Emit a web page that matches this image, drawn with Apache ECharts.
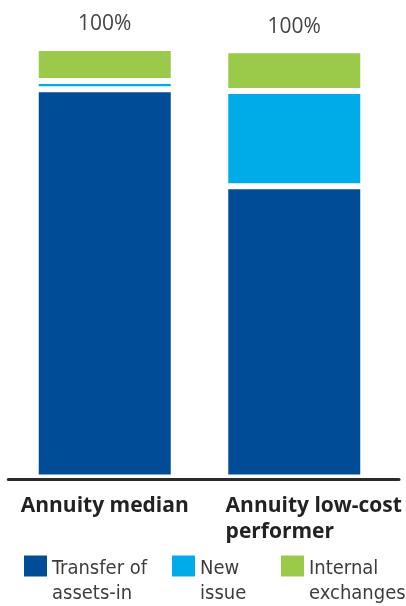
<!DOCTYPE html>
<html>
<head>
<meta charset="utf-8">
<script src="https://cdn.jsdelivr.net/npm/echarts@6/dist/echarts.min.js"></script>
<style>
html,body{margin:0;padding:0;background:#fff;}
#chart{width:406px;height:606px;}
</style>
</head>
<body>
<div id="chart"></div>
<script>
const categories = ['Annuity median', 'Annuity low-cost\nperformer'];
const seriesNames = ['Transfer of\nassets-in', 'New\nissue', 'Internal\nexchanges'];
const transferValues = [90.4, 67.8];
const newIssueValues = [1.9, 22.2];
const internalValues = [7.7, 9.5];
const totalLabels = ['100%', '100%'];
const colors = ['#004C97', '#00ACE7', '#9BCA4B'];

const FONT = '"Open Sans", "Noto Sans", sans-serif';
const LEGEND_FONT = '"DejaVu Sans Condensed", Roboto, sans-serif';
const chart = echarts.init(document.getElementById('chart'), null, {renderer: 'canvas'});

const barBase = {
  type: 'bar',
  stack: 'total',
  barWidth: 138,
  xAxisIndex: 0,
  yAxisIndex: 0
};

function legendFor(i, left) {
  return {
    data: [seriesNames[i]],
    left: left,
    top: 531,
    padding: 0,
    icon: 'rect',
    itemWidth: 23,
    itemHeight: 21,
    itemGap: 0,
    itemStyle: {borderWidth: 0},
    selectedMode: false,
    formatter: function (name) {
      return '{s| }\n' + name.split('\n').map(s => '{t|' + s + '}').join('\n');
    },
    textStyle: {
      fontFamily: LEGEND_FONT,
      fontSize: 20,
      color: '#3d3d3d',
      rich: {
        s: {fontFamily: LEGEND_FONT, fontSize: 20, lineHeight: 30},
        t: {fontFamily: LEGEND_FONT, fontSize: 20, color: '#3d3d3d', lineHeight: 25}
      }
    }
  };
}

const option = {
  animation: false,
  backgroundColor: '#fff',
  grid: [
    {left: 10, width: 379, top: 48, bottom: 128.5, containLabel: false},
    {left: 8.3, right: 7, top: 48, bottom: 127, containLabel: false}
  ],
  legend: [legendFor(0, 24), legendFor(1, 172), legendFor(2, 281)],
  xAxis: [
    {
      type: 'category',
      gridIndex: 0,
      data: categories,
      axisLine: {show: false},
      axisTick: {show: false},
      axisLabel: {
        interval: 0,
        margin: 16,
        formatter: function (value, index) {
          const key = index === 0 ? 'a' : 'b';
          return value.split('\n').map(s => '{' + key + '|' + s + '}').join('\n');
        },
        rich: {
          a: {fontFamily: FONT, fontWeight: 'bold', fontSize: 21, color: '#222', lineHeight: 26},
          b: {fontFamily: FONT, fontWeight: 'bold', fontSize: 21, color: '#222', lineHeight: 26, align: 'left', padding: [0, 0, 0, 39]}
        }
      }
    },
    {
      type: 'category',
      gridIndex: 1,
      data: [''],
      z: 10,
      axisLine: {show: true, lineStyle: {color: '#2b2b2b', width: 3}},
      axisTick: {show: false},
      axisLabel: {show: false}
    }
  ],
  yAxis: [
    {type: 'value', gridIndex: 0, min: 0, max: 100, show: false},
    {type: 'value', gridIndex: 1, min: 0, max: 100, show: false}
  ],
  series: [
    Object.assign({}, barBase, {
      name: seriesNames[0],
      data: transferValues,
      itemStyle: {color: colors[0], borderColor: '#fff', borderWidth: 3}
    }),
    Object.assign({}, barBase, {
      name: seriesNames[1],
      data: newIssueValues,
      itemStyle: {color: colors[1], borderColor: '#fff', borderWidth: 3}
    }),
    Object.assign({}, barBase, {
      name: seriesNames[2],
      data: internalValues,
      itemStyle: {color: colors[2], borderColor: '#fff', borderWidth: 3},
      label: {
        show: true,
        position: 'top',
        distance: 13,
        fontFamily: FONT,
        fontSize: 21,
        color: '#444',
        formatter: function (p) { return totalLabels[p.dataIndex]; }
      }
    })
  ]
};
chart.setOption(option);
</script>
</body>
</html>
